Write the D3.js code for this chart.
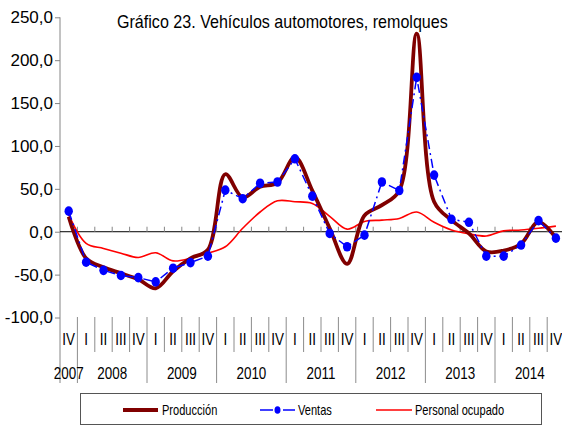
<!DOCTYPE html>
<html lang="es">
<head>
<meta charset="UTF-8">
<title>Gráfico 23</title>
<style>
    body { margin: 0; background: #fff; }
    svg { display: block; }
    text { font-family: "Liberation Sans", Arial, sans-serif; fill: #000; }
</style>
</head>
<body>
<svg id="chart" width="562" height="426"></svg>
<script src="https://cdn.jsdelivr.net/npm/d3@7"></script>
<script>
// quarters 2007 IV .. 2014 IV
const quarters = ["IV",
    "I","II","III","IV", "I","II","III","IV", "I","II","III","IV",
    "I","II","III","IV", "I","II","III","IV", "I","II","III","IV",
    "I","II","III","IV"];
const years = ["2007","2008","2009","2010","2011","2012","2013","2014"];

const produccion = [17.5, -31, -41.5, -48.5, -55.5, -66, -46, -31, -21,
    67, 40, 52.5, 57, 87, 48, 4, -37.5, 19, 31, 48, 231,
    35, 13.5, -2, -23, -22, -14, 11.5, -7.5];
const ventas = [24, -35.5, -45, -51, -53.5, -58.5, -42.5, -36, -28.5,
    48.5, 38.5, 56.5, 58, 85, 41.5, -2, -17.5, -4, 58, 48, 180,
    66, 14.5, 11, -28.5, -28.5, -15.5, 13, -7.5];
const personal = [20, -13.5, -19.5, -25, -30, -24.5, -34, -31, -25,
    -17.5, 4, 23, 36, 35, 33, 18, 3, 12, 13.5, 15.5, 23,
    11, 2, -2.5, -5, 1, 2, 4, 6.5];

const yTicks = [-100, -50, 0, 50, 100, 150, 200, 250];

const svg = d3.select("#chart");
svg.append("rect").attr("width", 562).attr("height", 426).attr("fill", "#fff");

const idx = d3.range(quarters.length);
const x = d3.scaleBand().domain(idx).range([60, 564.6]).padding(0);
const cx = i => x(i) + x.bandwidth() / 2;
const y = d3.scaleLinear().domain([-100, 250]).range([317.5, 17.3]);

const loc = d3.formatLocale({decimal: ",", thousands: ".", grouping: [3], currency: ["", ""], minus: "-"});
const fmt = loc.format(".1f");

// narrow text helper (the original uses a condensed face)
function narrow(g, px, py, str, size, sx, anchor) {
    return g.append("text")
        .attr("transform", `translate(${px},${py}) scale(${sx},1)`)
        .attr("text-anchor", anchor || "start")
        .style("font-size", size + "px")
        .text(str);
}

// title
narrow(svg, 117, 28, "Gráfico 23. Vehículos automotores, remolques", 17.5, 0.92);

// y axis
const yAxis = svg.append("g")
    .attr("transform", "translate(60,0)")
    .call(d3.axisLeft(y).tickValues(yTicks).tickFormat(fmt).tickSize(5).tickPadding(2));
yAxis.select(".domain").remove();
yAxis.selectAll(".tick line").attr("stroke", "#868686");
yAxis.selectAll(".tick text").style("font-size", "17px").attr("font-family", null);

svg.append("line")
    .attr("x1", 60).attr("x2", 60).attr("y1", y(250)).attr("y2", 383)
    .attr("stroke", "#868686");

// zero line with small ticks
const y0 = y(0);
svg.append("line")
    .attr("x1", 60).attr("x2", 562).attr("y1", y0).attr("y2", y0)
    .attr("stroke", "#000").attr("stroke-width", 1);
svg.append("g").selectAll("line")
    .data(d3.range(1, quarters.length))
    .join("line")
    .attr("x1", d => x(d)).attr("x2", d => x(d))
    .attr("y1", y0 - 5).attr("y2", y0)
    .attr("stroke", "#868686");

// category row: separators, quarter and year labels
svg.append("g").selectAll("line")
    .data(d3.range(1, quarters.length))
    .join("line")
    .attr("x1", d => x(d)).attr("x2", d => x(d))
    .attr("y1", 317)
    .attr("y2", d => quarters[d] === "I" ? 383 : 352)
    .attr("stroke", "#8c8c8c");

const qg = svg.append("g");
idx.forEach(i => narrow(qg, cx(i), 345, quarters[i], 17, 0.79, "middle"));

const yg = svg.append("g");
let start = 0;
years.forEach(yr => {
    const n = yr === "2007" ? 1 : 4;
    const mid = (x(start) + x(start + n - 1) + x.bandwidth()) / 2;
    narrow(yg, mid, 379, yr, 17, 0.79, "middle");
    start += n;
});

// series
const smooth = d3.line().x((d, i) => cx(i)).y(d => y(d)).curve(d3.curveCatmullRom);
const straight = d3.line().x((d, i) => cx(i)).y(d => y(d));

svg.append("path").datum(personal)
    .attr("d", smooth).attr("fill", "none")
    .attr("stroke", "#ff0000").attr("stroke-width", 1.6);

svg.append("path").datum(produccion)
    .attr("d", smooth).attr("fill", "none")
    .attr("stroke", "#800000").attr("stroke-width", 3.8)
    .attr("stroke-linejoin", "round");

svg.append("path").datum(ventas)
    .attr("d", straight).attr("fill", "none")
    .attr("stroke", "#0000ff").attr("stroke-width", 1.5)
    .attr("stroke-dasharray", "9,4,2,4");

svg.append("g").selectAll("ellipse")
    .data(ventas)
    .join("ellipse")
    .attr("cx", (d, i) => cx(i)).attr("cy", d => y(d))
    .attr("rx", 4.2).attr("ry", 4.8)
    .attr("fill", "#0000ff");

// legend
const lg = svg.append("g");
lg.append("rect")
    .attr("x", 80.5).attr("y", 393.5).attr("width", 461).attr("height", 31)
    .attr("fill", "#fff").attr("stroke", "#555");
lg.append("line").attr("x1", 123).attr("x2", 158).attr("y1", 410).attr("y2", 410)
    .attr("stroke", "#800000").attr("stroke-width", 3.8);
narrow(lg, 162, 415, "Producción", 14, 0.79);
lg.append("line").attr("x1", 260).attr("x2", 273).attr("y1", 410).attr("y2", 410)
    .attr("stroke", "#0000ff").attr("stroke-width", 1.5);
lg.append("line").attr("x1", 283).attr("x2", 295).attr("y1", 410).attr("y2", 410)
    .attr("stroke", "#0000ff").attr("stroke-width", 1.5);
lg.append("ellipse").attr("cx", 277.5).attr("cy", 410).attr("rx", 3).attr("ry", 3.8)
    .attr("fill", "#0000ff");
narrow(lg, 298, 415, "Ventas", 14, 0.79);
lg.append("line").attr("x1", 376).attr("x2", 412).attr("y1", 410).attr("y2", 410)
    .attr("stroke", "#ff0000").attr("stroke-width", 1.6);
narrow(lg, 415, 415, "Personal ocupado", 14, 0.79);
</script>
</body>
</html>
